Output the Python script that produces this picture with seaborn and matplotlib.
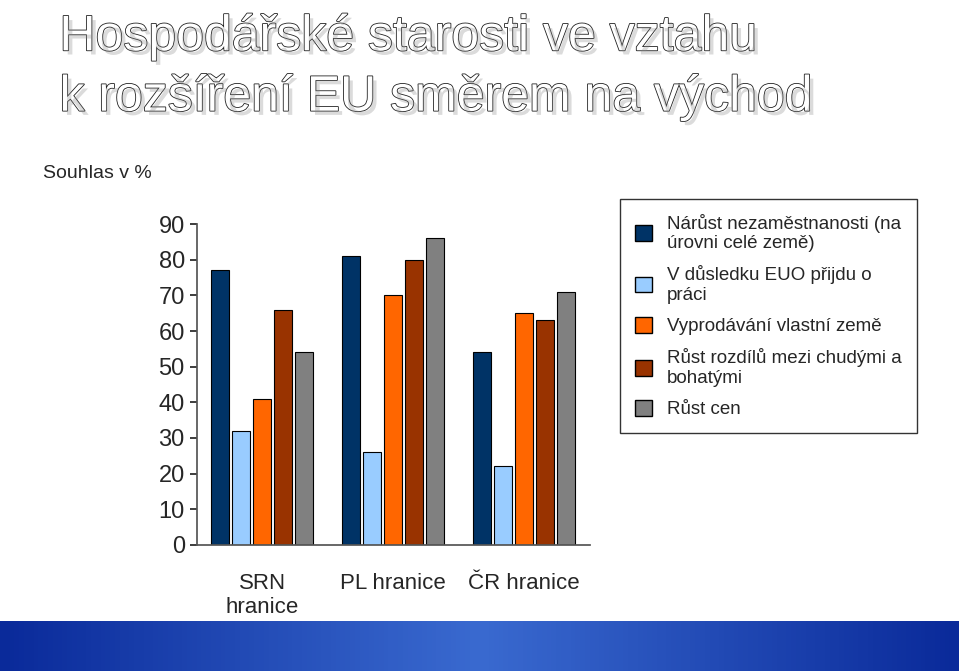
import matplotlib
matplotlib.use("Agg")
import matplotlib.pyplot as plt
import matplotlib.patheffects as pe
import seaborn as sns
import pandas as pd
import numpy as np

categories = ["SRN\nhranice", "PL hranice", "ČR hranice"]
series = ["Nárůst nezaměstnanosti (na\núrovni celé země)",
          "V důsledku EUO přijdu o\npráci",
          "Vyprodávání vlastní země",
          "Růst rozdílů mezi chudými a\nbohatými",
          "Růst cen"]
values = [
    [77, 81, 54],
    [32, 26, 22],
    [41, 70, 65],
    [66, 80, 63],
    [54, 86, 71],
]
colors = ["#003366", "#99CCFF", "#FF6600", "#993300", "#808080"]
yticks = [0, 10, 20, 30, 40, 50, 60, 70, 80, 90]

rows = []
for s, vals in zip(series, values):
    for c, v in zip(categories, vals):
        rows.append({"cat": c, "series": s, "val": v})
df = pd.DataFrame(rows)

sns.set_theme(style="white")
plt.rcParams['font.family'] = ['Liberation Sans', 'DejaVu Sans']
fig = plt.figure(figsize=(9.59, 6.71), dpi=100)
ax = fig.add_axes([0.205, 0.188, 0.41, 0.478])
sns.barplot(data=df, x="cat", y="val", hue="series", palette=colors, saturation=1,
            edgecolor="black", linewidth=0.8, width=0.8, gap=0.15, ax=ax, legend=False)
ax.set_ylim(0, 90)
ax.set_yticks(yticks)
ax.tick_params(axis='y', labelsize=17, length=5, left=True)
ax.tick_params(axis='x', labelsize=16, pad=14)
ax.set_xlabel("")
ax.set_ylabel("")
for sp in ["top", "right"]:
    ax.spines[sp].set_visible(False)
ax.spines["left"].set_color("#555")
ax.spines["bottom"].set_color("#555")
ax.set_xlim(-0.5, 2.5)

fig.text(0.045, 0.735, "Souhlas v %", fontsize=14)
for i, line in enumerate(["Hospodářské starosti ve vztahu", "k rozšíření EU směrem na východ"]):
    fig.text(0.062, 0.925 - i * 0.09, line, fontsize=36, color="white",
             path_effects=[pe.withStroke(linewidth=1.2, foreground="#222"),
                           pe.SimplePatchShadow(offset=(3, -3), shadow_rgbFace="#888")])

handles = [plt.Rectangle((0, 0), 1, 1, facecolor=c, edgecolor="black") for c in colors]
leg = fig.legend(handles, series, loc="upper left", bbox_to_anchor=(0.637, 0.718),
                 fontsize=13.5, frameon=True, fancybox=False, edgecolor="black",
                 handlelength=0.9, handleheight=0.9, labelspacing=0.7, borderpad=0.8)
band = fig.add_axes([0, 0, 1, 0.075])
band.imshow(np.linspace(0, 1, 200).reshape(1, -1), aspect="auto",
            cmap=matplotlib.colors.LinearSegmentedColormap.from_list("b", ["#0a2a9a", "#3a6ad0", "#0a2a9a"]))
band.axis("off")
fig.savefig("out.png", dpi=100)
